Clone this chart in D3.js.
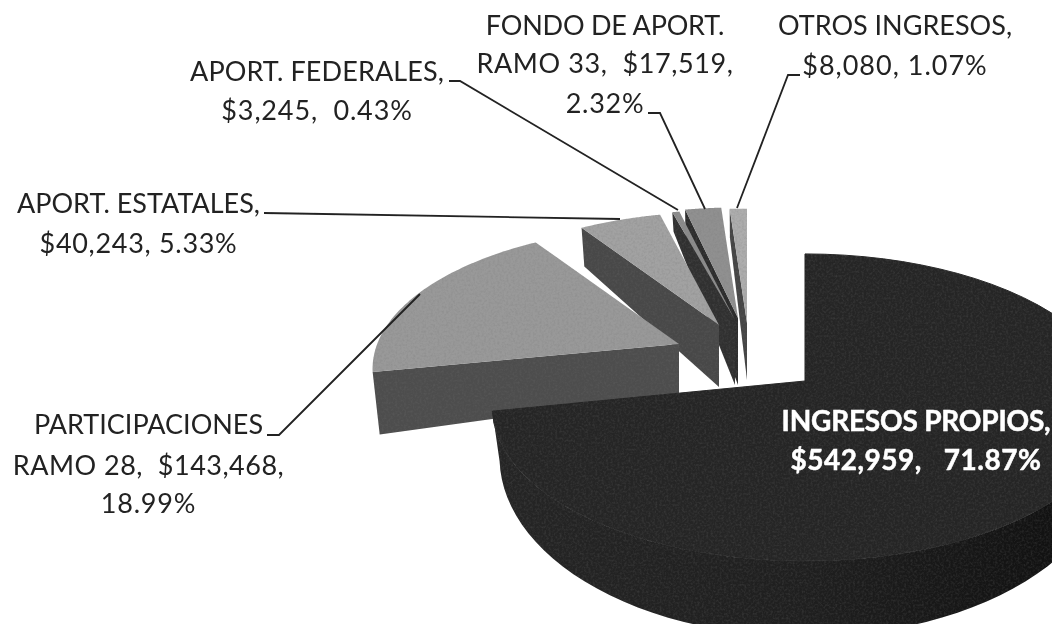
<!DOCTYPE html>
<html><head><meta charset="utf-8">
<script src="https://cdnjs.cloudflare.com/ajax/libs/d3/7.8.5/d3.min.js"></script>
<style>html,body{margin:0;padding:0;background:#fff}svg{display:block}
text{font-family:Lato,"Open Sans",sans-serif;white-space:pre;fill:#222}</style>
</head><body><svg id="c" width="1052" height="624"></svg>
<script>
const categories=["INGRESOS PROPIOS","PARTICIPACIONES RAMO 28","APORT. ESTATALES","APORT. FEDERALES","FONDO DE APORT. RAMO 33","OTROS INGRESOS"];
const amounts=[542959,143468,40243,3245,17519,8080];
const percents=[71.87,18.99,5.33,0.43,2.32,1.07];
const topColors=["#252525","#999999","#a2a2a2","#8c8c8c","#909090","#adadad"];
const wallColors=["url(#bigWall)","#4d4d4d","#484848","#303030","#2c2c2c","#454545"];

// layout of each exploded slice: apex, horizontal & vertical radius factors, wall depth at apex, growth of depth with y, taper
const layout=[
 {a:[805,381],sx:1,sy:1,d:45,g:.17,t:.023},
 {a:[679,344],sx:.98,sy:.93,d:49,g:.48,t:.023},
 {a:[719,325],sx:.94,sy:.89,d:62,g:.24,t:.02},
 {a:[735,320],sx:1,sy:.87,d:65,g:.42,t:.02},
 {a:[738,318],sx:.95,sy:.87,d:67,g:.3,t:.01},
 {a:[747,323],sx:.98,sy:.9,d:57,g:.25,t:.01}
];
const R=308,A=149,P=.1726;

const svg=d3.select("#c");
const defs=svg.append("defs");
const lg=defs.append("linearGradient").attr("id","bigWall").attr("x1",0).attr("x2",1).attr("y1",0).attr("y2",0);
lg.append("stop").attr("offset","0").attr("stop-color","#252525");
lg.append("stop").attr("offset",".5").attr("stop-color","#1f1f1f");
lg.append("stop").attr("offset","1").attr("stop-color","#0e0e0e");
const f=defs.append("filter").attr("id","soft").attr("x","-5%").attr("y","-5%").attr("width","110%").attr("height","110%");
f.append("feGaussianBlur").attr("stdDeviation",.45);
// very light scan grain on the pie
const gr=defs.append("filter").attr("id","grain").attr("x",0).attr("y",0).attr("width","100%").attr("height","100%").attr("color-interpolation-filters","sRGB");
gr.append("feGaussianBlur").attr("in","SourceGraphic").attr("stdDeviation",.5).attr("result","b");
gr.append("feTurbulence").attr("type","fractalNoise").attr("baseFrequency",.45).attr("numOctaves",2).attr("seed",4).attr("result","n");
gr.append("feColorMatrix").attr("in","n").attr("type","matrix").attr("values","0 0 0 0 .45  0 0 0 0 .45  0 0 0 0 .45  .5 0 0 0 -.2").attr("result","m");
gr.append("feComposite").attr("in","m").attr("in2","b").attr("operator","in").attr("result","c");
const mg=gr.append("feMerge");mg.append("feMergeNode").attr("in","b");mg.append("feMergeNode").attr("in","c");

const arcs=d3.pie().sort(null)(amounts);

function proj(L,theta,r){
  const u=r*Math.sin(theta),w=-r*Math.cos(theta),s=1/(1-P*w);
  return [L.a[0]+R*L.sx*u*s, L.a[1]+A*L.sy*w*s];
}
function drop(L,p){
  return [p[0]+(L.a[0]-p[0])*L.t, p[1]+L.d+L.g*(p[1]-L.a[1])];
}
const line=d3.line();
const steps=(a,b)=>d3.range(0,61).map(i=>a+(b-a)*i/60);

const g=svg.append("g").attr("filter","url(#grain)");
// paint from back to front: small slices first, then participaciones, then the large slice
[5,4,3,2,1,0].forEach(i=>{
  const L=layout[i],d=arcs[i],apex=L.a,t0=d.startAngle,t1=d.endAngle;
  const rim=steps(t0,t1).map(t=>proj(L,t,1));
  if(i===0){
    const front=steps(Math.PI/2,t1).map(t=>proj(L,t,1));
    const back=front.map(p=>drop(L,p)).reverse();
    g.append("path").attr("d",line(front.concat(back))+"Z").attr("fill",wallColors[i]);
  }else{
    const c=proj(L,t0,1);
    g.append("path").attr("d",line([apex,c,drop(L,c),drop(L,apex)])+"Z").attr("fill",wallColors[i]);
  }
  const top=g.append("path").attr("d",line([apex].concat(rim))+"Z").attr("fill",topColors[i]);
  if(i===0) top.attr("stroke",topColors[i]).attr("stroke-width",1);
});

// leader lines
const leaders=[
 [[267,435],[279,435],[420,294]],
 [[264,213],[620,219]],
 [[449,81],[460,81],[678,210]],
 [[648,113],[660,113],[705,209]],
 [[800,75],[788,75],[737,208]]
];
const lg2=svg.append("g").attr("filter","url(#soft)");
lg2.selectAll("path").data(leaders).join("path")
 .attr("d",d=>line(d)).attr("fill","none").attr("stroke","#222").attr("stroke-width",1.8);

// labels
const fmt=d3.format(",");
const money=i=>"$"+fmt(amounts[i]);
const pct=i=>percents[i].toFixed(2)+"%";
const labels=[
 {x:916,y:[431,470],lines:["INGRESOS PROPIOS,",money(0)+",   "+pct(0)],ls:[-.2,.5],fill:"#fff",w:700},
 {x:148.5,y:[434,475,513],lines:["PARTICIPACIONES","RAMO 28,  "+money(1)+",",pct(1)],ls:[0,.5,.8]},
 {x:138.5,y:[213,253],lines:["APORT. ESTATALES,",money(2)+", "+pct(2)],ls:[0,.7]},
 {x:317,y:[81,120],lines:["APORT. FEDERALES,",money(3)+",  "+pct(3)],ls:[.1,.85]},
 {x:605,y:[35,73,113],lines:["FONDO DE APORT.","RAMO 33,  "+money(4)+",",pct(4)],ls:[-.2,.6,.7]},
 {x:895,y:[35,75],lines:["OTROS INGRESOS,",money(5)+", "+pct(5)],ls:[0,1]}
];
const tg=svg.append("g").attr("filter","url(#soft)");
labels.forEach(l=>l.lines.forEach((s,j)=>{
  tg.append("text").attr("x",l.x).attr("y",l.y[j]).attr("text-anchor","middle")
    .attr("font-size",l.w?28:27).attr("font-weight",l.w||400).attr("letter-spacing",l.ls[j]).style("fill",l.fill||null)
    .style("stroke",l.w?"#fff":null).style("stroke-width",l.w?.5:null).text(s);
}));
</script></body></html>
